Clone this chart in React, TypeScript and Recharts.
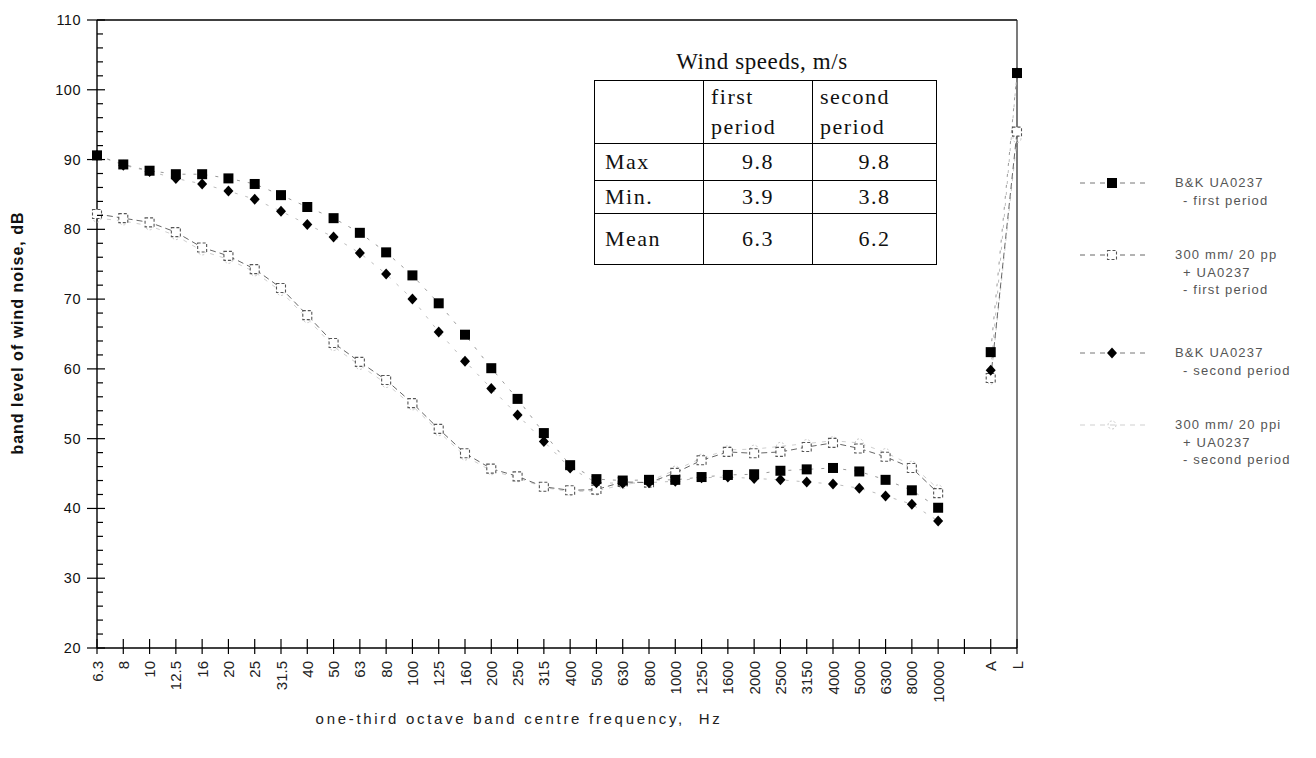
import React from "react";
import { LineChart, Line, XAxis, YAxis, ReferenceLine } from "recharts";

// ---------- data ----------
const categories = [
  "6.3", "8", "10", "12.5", "16", "20", "25", "31.5", "40", "50", "63", "80",
  "100", "125", "160", "200", "250", "315", "400", "500", "630", "800", "1000",
  "1250", "1600", "2000", "2500", "3150", "4000", "5000", "6300", "8000", "10000",
  "", "A", "L",
];

const bkFirst = [
  90.6, 89.3, 88.4, 87.9, 87.9, 87.3, 86.5, 84.9, 83.2, 81.6, 79.5, 76.7,
  73.4, 69.4, 64.9, 60.1, 55.7, 50.8, 46.2, 44.2, 44.0, 44.1, 44.1,
  44.5, 44.8, 44.9, 45.4, 45.6, 45.8, 45.3, 44.1, 42.6, 40.1,
  null, 62.4, 102.4,
];

const foamFirst = [
  82.2, 81.6, 81.0, 79.6, 77.4, 76.2, 74.3, 71.6, 67.7, 63.7, 61.0, 58.4,
  55.1, 51.4, 47.9, 45.7, 44.6, 43.1, 42.6, 42.7, 43.8, 43.7, 45.1,
  46.9, 48.1, 47.9, 48.1, 48.8, 49.4, 48.6, 47.4, 45.8, 42.2,
  null, 58.7, 94.0,
];

const bkSecond = [
  90.6, 89.2, 88.3, 87.3, 86.5, 85.5, 84.3, 82.6, 80.7, 78.9, 76.6, 73.6,
  70.0, 65.3, 61.1, 57.2, 53.4, 49.6, 45.8, 43.7, 43.6, 43.7, 43.9,
  44.4, 44.5, 44.3, 44.1, 43.8, 43.5, 42.9, 41.8, 40.6, 38.2,
  null, 59.8, 102.4,
];

const foamSecond = [
  81.6, 81.2, 80.5, 79.1, 76.9, 75.7, 73.9, 71.1, 67.2, 63.2, 60.5, 57.9,
  54.7, 51.0, 47.5, 45.4, 44.4, 43.0, 42.4, 42.5, 43.4, 43.9, 45.5,
  47.2, 48.4, 48.5, 48.9, 49.3, 49.7, 49.4, 48.0, 46.2, 42.8,
  null, 58.4, 93.0,
];

const yTicks = [
  20, 22, 24, 26, 28, 30, 32, 34, 36, 38, 40, 42, 44, 46, 48, 50, 52, 54, 56, 58,
  60, 62, 64, 66, 68, 70, 72, 74, 76, 78, 80, 82, 84, 86, 88, 90, 92, 94, 96, 98,
  100, 102, 104, 106, 108, 110,
];
const yMajor = [20, 30, 40, 50, 60, 70, 80, 90, 100, 110];

const tableHeader = ["", "first\nperiod", "second\nperiod"];
const tableRows = [
  ["Max", "9.8", "9.8"],
  ["Min.", "3.9", "3.8"],
  ["Mean", "6.3", "6.2"],
];

const data = categories.map((c, i) => ({
  idx: i,
  label: c,
  bkFirst: bkFirst[i],
  foamFirst: foamFirst[i],
  bkSecond: bkSecond[i],
  foamSecond: foamSecond[i],
}));
const xTicks = categories.map((_, i) => i);

// ---------- marks ----------
const empty = (key: any) => <g key={key} />;

const SquareDot = (p: any) => {
  if (p.cx == null || p.cy == null || p.value == null) return empty(p.key);
  return <rect key={p.key} x={p.cx - 5} y={p.cy - 5} width={10} height={10} fill="#000" />;
};
const DiamondDot = (p: any) => {
  if (p.cx == null || p.cy == null || p.value == null) return empty(p.key);
  const { cx, cy } = p;
  return (
    <polygon key={p.key} points={`${cx},${cy - 5.5} ${cx + 5},${cy} ${cx},${cy + 5.5} ${cx - 5},${cy}`} fill="#000" />
  );
};
const OpenSquareDot = (p: any) => {
  if (p.cx == null || p.cy == null || p.value == null) return empty(p.key);
  return (
    <rect key={p.key} x={p.cx - 4.5} y={p.cy - 4.5} width={9} height={9} fill="#fff" stroke="#555" strokeWidth={1.1} strokeDasharray="3 2" />
  );
};
const OpenCircleDot = (p: any) => {
  if (p.cx == null || p.cy == null || p.value == null) return empty(p.key);
  return <circle key={p.key} cx={p.cx} cy={p.cy} r={4} fill="none" stroke="#c8c8c8" strokeWidth={1} strokeDasharray="2 2" />;
};

const series = [
  { key: "foamSecond", name: ["300 mm/ 20 ppi", "+ UA0237", "- second period"], stroke: "#cfcfcf", dash: "4 6", dot: OpenCircleDot },
  { key: "foamFirst", name: ["300 mm/ 20 pp", "+ UA0237", "- first period"], stroke: "#666", dash: "6 4", dot: OpenSquareDot },
  { key: "bkSecond", name: ["B&K UA0237", "- second period"], stroke: "#bdbdbd", dash: "3 8", dot: DiamondDot },
  { key: "bkFirst", name: ["B&K UA0237", "- first period"], stroke: "#999", dash: "3 8", dot: SquareDot },
];

const XTick = (p: any) => {
  const { x, y, payload } = p;
  const label = categories[payload.value];
  return (
    <g>
      <line x1={x} x2={x} y1={y - 9} y2={y + 6} stroke="#000" strokeWidth={1.2} />
      {label ? (
        <text
          transform={`translate(${x},${y + 13}) rotate(-90)`}
          textAnchor="end"
          dominantBaseline="central"
          fontSize={15}
          fontFamily="Liberation Sans, Arial, sans-serif"
          fill="#222"
        >
          {label}
        </text>
      ) : null}
    </g>
  );
};

const YTick = (p: any) => {
  const { x, y, payload } = p;
  const v = payload.value;
  const major = yMajor.includes(v);
  return (
    <g>
      {major ? (
        <line x1={x - 10} x2={x + 8} y1={y} y2={y} stroke="#000" strokeWidth={1.2} />
      ) : (
        <line x1={x} x2={x + 6} y1={y} y2={y} stroke="#000" strokeWidth={1.2} />
      )}
      {major ? (
        <text x={x - 16} y={y} textAnchor="end" dominantBaseline="central" fontSize={14.5} fontFamily="Liberation Sans, Arial, sans-serif" fill="#111" letterSpacing={0.5}>
          {v}
        </text>
      ) : null}
    </g>
  );
};

// ---------- legend layout ----------
const legendOrder = ["bkFirst", "foamFirst", "bkSecond", "foamSecond"];
const legendTop = [175, 247, 345, 417];

const LegendSample = ({ s }: { s: any }) => {
  const Dot = s.dot;
  return (
    <svg width={72} height={16} style={{ position: "absolute", left: 0, top: 0 }}>
      <line x1={2} x2={68} y1={8} y2={8} stroke={s.key === "bkFirst" || s.key === "bkSecond" ? "#777" : s.stroke} strokeWidth={1} strokeDasharray="5 5" />
      <Dot cx={34} cy={8} value={1} key="d" />
    </svg>
  );
};

export default function App() {
  return (
    <div style={{ position: "relative", width: 1300, height: 742, background: "#fff" }}>
      <LineChart width={1300} height={742} data={data} margin={{ top: 12, right: 291, bottom: 0, left: 19 }}>
        <XAxis
          type="number"
          dataKey="idx"
          domain={[0, 35]}
          ticks={xTicks}
          interval={0}
          height={102}
          tickSize={0}
          tickMargin={0}
          tickLine={false}
          tick={<XTick />}
          axisLine={{ stroke: "#000", strokeWidth: 1.4 }}
        />
        <YAxis
          type="number"
          domain={[20, 110]}
          ticks={yTicks}
          interval={0}
          width={70}
          tickSize={0}
          tickMargin={0}
          tickLine={false}
          tick={<YTick />}
          axisLine={{ stroke: "#000", strokeWidth: 1.4 }}
        />
        <ReferenceLine y={110} stroke="#000" strokeWidth={1.4} />
        <ReferenceLine x={35} stroke="#222" strokeWidth={1.2} />
        {series.map((s) => (
          <Line
            key={s.key}
            dataKey={s.key}
            type="linear"
            stroke={s.stroke}
            strokeWidth={1}
            strokeDasharray={s.dash}
            dot={s.dot}
            activeDot={false}
            isAnimationActive={false}
            connectNulls={false}
          />
        ))}
      </LineChart>

      {/* axis titles */}
      <div
        style={{
          position: "absolute",
          left: 10,
          top: 325,
          transform: "translate(-50%, -50%) rotate(-90deg)",
          whiteSpace: "nowrap",
          fontFamily: "Liberation Sans, Arial, sans-serif",
          fontWeight: "bold",
          fontSize: 16,
          letterSpacing: 1,
          color: "#111",
        }}
      >
        band level of wind noise, dB
      </div>
      <div
        style={{
          position: "absolute",
          left: 511,
          top: 710,
          transform: "translate(-50%, -50%)",
          whiteSpace: "pre",
          fontFamily: "Liberation Sans, Arial, sans-serif",
          fontSize: 15,
          letterSpacing: 2.7,
          color: "#222",
        }}
      >
        {"one-third octave band centre frequency,  Hz"}
      </div>

      {/* wind speed table */}
      <div
        style={{
          position: "absolute",
          left: 754,
          top: 54,
          transform: "translate(-50%, -50%)",
          whiteSpace: "nowrap",
          fontFamily: "Liberation Serif, Times New Roman, serif",
          fontSize: 23,
          letterSpacing: 0.6,
          color: "#111",
        }}
      >
        Wind speeds, m/s
      </div>
      <table
        style={{
          position: "absolute",
          left: 586,
          top: 72,
          width: 342,
          height: 184,
          borderCollapse: "collapse",
          fontFamily: "Liberation Serif, Times New Roman, serif",
          fontSize: 22,
          letterSpacing: 1.5,
          color: "#111",
          tableLayout: "fixed",
        }}
      >
        <colgroup>
          <col style={{ width: 109 }} />
          <col style={{ width: 109 }} />
          <col style={{ width: 124 }} />
        </colgroup>
        <tbody>
          <tr style={{ height: 63 }}>
            {tableHeader.map((h, i) => (
              <td
                key={i}
                style={{ border: "1px solid #000", padding: "0 0 0 7px", whiteSpace: "pre", lineHeight: "30px", verticalAlign: "middle" }}
              >
                {h}
              </td>
            ))}
          </tr>
          {tableRows.map((r, ri) => (
            <tr key={ri} style={{ height: [37, 33, 51][ri] }}>
              {r.map((c, ci) => (
                <td
                  key={ci}
                  style={{
                    border: "1px solid #000",
                    padding: ci === 0 ? "0 0 0 10px" : 0,
                    textAlign: ci === 0 ? "left" : "center",
                    verticalAlign: "middle",
                    lineHeight: "26px",
                  }}
                >
                  {c}
                </td>
              ))}
            </tr>
          ))}
        </tbody>
      </table>

      {/* legend */}
      {legendOrder.map((k, i) => {
        const s = series.find((q) => q.key === k)!;
        return (
          <div key={k} style={{ position: "absolute", left: 1070, top: legendTop[i] - 8, width: 230, height: 60 }}>
            <LegendSample s={s} />
            <div
              style={{
                position: "absolute",
                left: 97,
                top: -1,
                fontFamily: "Liberation Sans, Arial, sans-serif",
                fontSize: 13,
                letterSpacing: 1.2,
                lineHeight: "17.5px",
                color: "#555",
                whiteSpace: "nowrap",
              }}
            >
              {s.name.map((line, li) => (
                <div key={li} style={{ paddingLeft: li === 0 ? 0 : 8 }}>
                  {line}
                </div>
              ))}
            </div>
          </div>
        );
      })}
    </div>
  );
}
